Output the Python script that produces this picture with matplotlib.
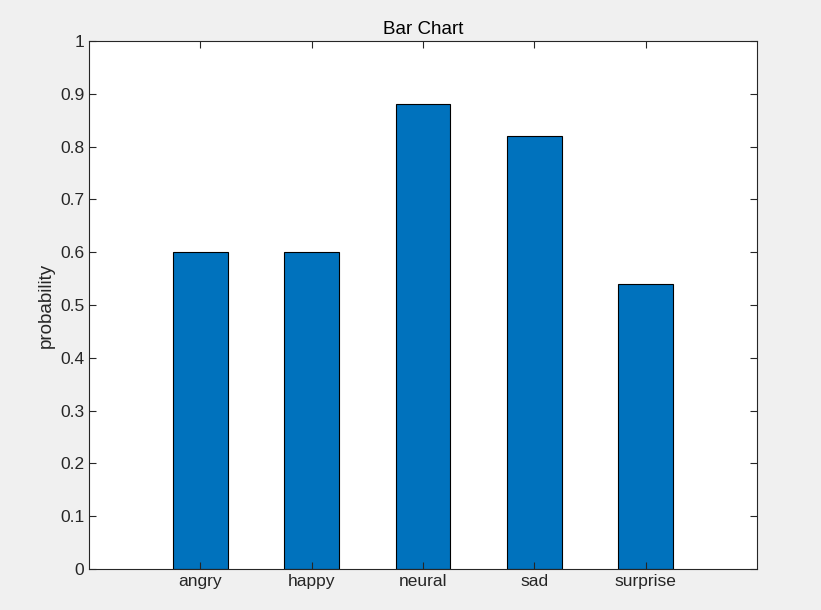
import numpy as np
import matplotlib.pyplot as plt

categories = ["angry", "happy", "neural", "sad", "surprise"]
probability = [0.60, 0.60, 0.88, 0.82, 0.54]

plt.rcParams["font.family"] = ["Liberation Sans", "DejaVu Sans"]

fig = plt.figure(figsize=(8.21, 6.10), dpi=100, facecolor="#f0f0f0")
ax = fig.add_axes([0.1084, 0.0672, 0.8136, 0.8656])
ax.set_facecolor("white")

x = np.arange(1, len(categories) + 1)
ax.bar(x, probability, width=0.49, color="#0072BD", edgecolor="black", linewidth=0.8)

ax.set_xlim(0, len(categories) + 1)
ax.set_ylim(0, 1)
ax.set_xticks(x)
ax.set_xticklabels(categories)
ax.set_yticks(np.arange(0, 1.01, 0.1))
ax.set_yticklabels(["0"] + [f"{v:.1f}" for v in np.arange(0.1, 0.95, 0.1)] + ["1"])
ax.tick_params(direction="in", labelsize=12.5, colors="#262626", length=5, top=True, right=True,
               labeltop=False, labelright=False)
for s in ax.spines.values():
    s.set_color("#262626")
    s.set_linewidth(0.8)

ax.set_ylabel("probability", fontsize=13.5, color="#262626")
ax.set_title("Bar Chart", fontsize=13.5, color="black", pad=5)

fig.savefig("out.png", dpi=100, facecolor=fig.get_facecolor())
